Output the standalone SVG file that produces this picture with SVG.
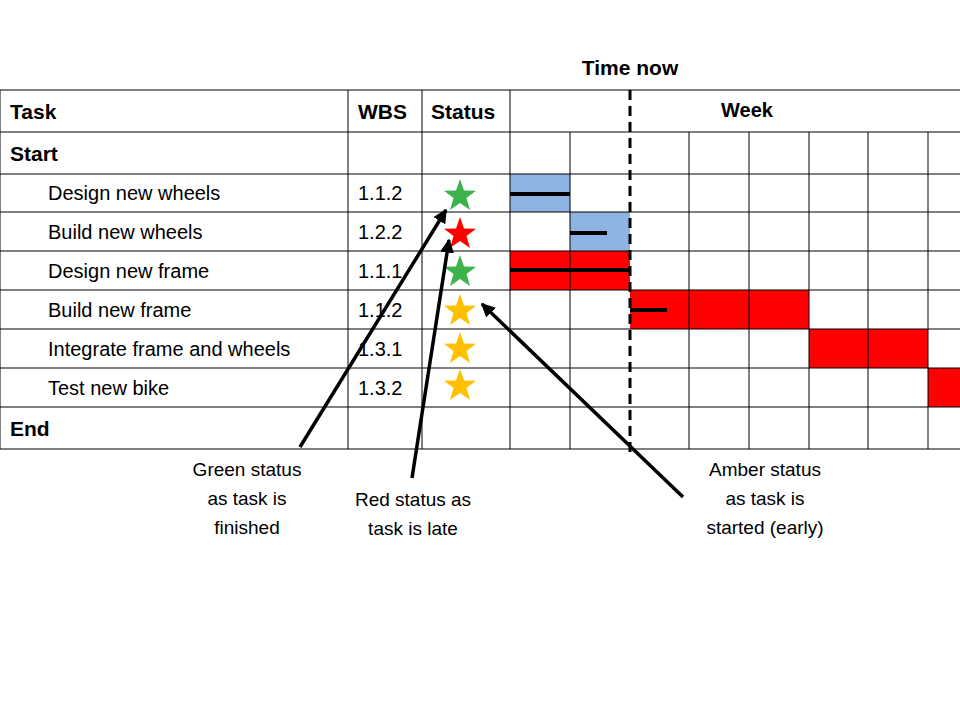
<svg xmlns="http://www.w3.org/2000/svg" width="960" height="720" viewBox="0 0 960 720">
<defs>
<style>
.t{font-family:"Liberation Sans",Arial,sans-serif;font-size:20px;fill:#000}
.b{font-weight:bold;font-size:21px}
.g{stroke:#000;stroke-width:1;fill:none}
.a{font-family:"Liberation Sans",Arial,sans-serif;font-size:19px;fill:#000;text-anchor:middle}
</style>
<marker id="ah" viewBox="0 0 10 10" refX="9" refY="5" markerWidth="4" markerHeight="4" orient="auto"><path d="M0,0 L10,5 L0,10 z" fill="#000"/></marker>
<path id="star" d="M0,-17 L4,-5.5 L16,-5.3 L6.5,2 L10,14 L0,7 L-10,14 L-6.5,2 L-16,-5.3 L-4,-5.5 Z"/>
</defs>
<rect width="960" height="720" fill="#fff"/>
<text x="630" y="75" class="t b" text-anchor="middle">Time now</text>
<g id="bars">
<rect x="510" y="174" width="60" height="38" fill="#8eb4e3"/>
<rect x="570" y="212" width="60" height="39" fill="#8eb4e3"/>
<rect x="510" y="251" width="120" height="39" fill="#ff0000"/>
<rect x="630" y="290" width="179" height="39" fill="#ff0000"/>
<rect x="809" y="329" width="119" height="39" fill="#ff0000"/>
<rect x="928" y="368" width="32" height="39" fill="#ff0000"/>
</g>
<g id="grid" class="g">
<path d="M0,90H960M0,132H960M0,174H960M0,212H960M0,251H960M0,290H960M0,329H960M0,368H960M0,407H960M0,449H960"/>
<path d="M0,90V449M348,90V449M422,90V449M510,90V449"/>
<path d="M570,132V449M689,132V449M749,132V449M809,132V449M868,132V449M928,132V449"/>
</g>
<g id="progress" stroke="#000" stroke-width="4">
<path d="M510,194H570M570,233H607M510,270H630M630,310H667"/>
</g>
<path d="M630,90V458" stroke="#000" stroke-width="3" stroke-dasharray="10,6"/>
<g id="labels">
<text x="10" y="119" class="t b">Task</text>
<text x="358" y="119" class="t b">WBS</text>
<text x="431" y="119" class="t b">Status</text>
<text x="747" y="117" class="t" font-weight="bold" font-size="19" text-anchor="middle">Week</text>
<text x="10" y="161" class="t b">Start</text>
<text x="10" y="436" class="t b">End</text>
<text x="48" y="200" class="t">Design new wheels</text>
<text x="48" y="239" class="t">Build new wheels</text>
<text x="48" y="278" class="t">Design new frame</text>
<text x="48" y="317" class="t">Build new frame</text>
<text x="48" y="356" class="t">Integrate frame and wheels</text>
<text x="48" y="395" class="t">Test new bike</text>
<text x="358" y="200" class="t">1.1.2</text>
<text x="358" y="239" class="t">1.2.2</text>
<text x="358" y="278" class="t">1.1.1</text>
<text x="358" y="317" class="t">1.1.2</text>
<text x="358" y="356" class="t">1.3.1</text>
<text x="358" y="395" class="t">1.3.2</text>
</g>
<g id="stars">
<use href="#star" x="460" y="196" fill="#3cb34a"/>
<use href="#star" x="460" y="234" fill="#ff0000"/>
<use href="#star" x="460" y="272" fill="#3cb34a"/>
<use href="#star" x="460" y="311" fill="#ffc000"/>
<use href="#star" x="460" y="349" fill="#ffc000"/>
<use href="#star" x="460" y="386" fill="#ffc000"/>
</g>
<g id="connectors" stroke="#000" stroke-width="3.5" fill="none" marker-end="url(#ah)">
<path d="M300,447L446,210"/>
<path d="M412,478L449,240"/>
<path d="M683,497L482,304"/>
</g>
<g id="notes">
<text class="a" x="247" y="476">Green status</text>
<text class="a" x="247" y="505">as task is</text>
<text class="a" x="247" y="534">finished</text>
<text class="a" x="413" y="506">Red status as</text>
<text class="a" x="413" y="535">task is late</text>
<text class="a" x="765" y="476">Amber status</text>
<text class="a" x="765" y="505">as task is</text>
<text class="a" x="765" y="534">started (early)</text>
</g>
</svg>
